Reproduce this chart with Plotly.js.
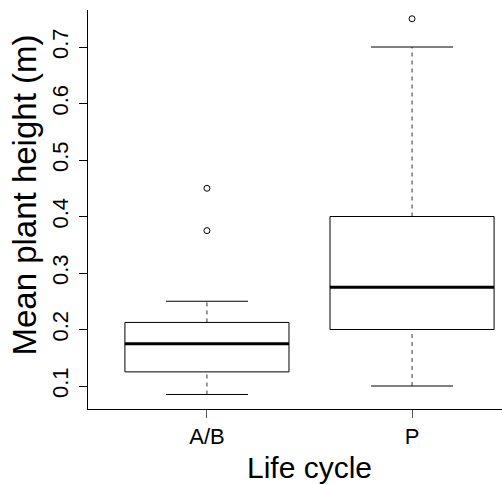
<!DOCTYPE html>
<html>
<head>
<meta charset="utf-8">
<script src="https://cdn.plot.ly/plotly-3.0.1.min.js"></script>
<style>html,body{margin:0;padding:0;background:#fff;overflow:hidden;}</style>
</head>
<body>
<div id="chart" style="width:531px;height:484px;"></div>
<script>
// Data
var categories = ["A/B", "P"];
var lowerWhisker = [0.085, 0.10];
var q1 = [0.125, 0.20];
var medians = [0.175, 0.275];
var q3 = [0.2125, 0.40];
var upperWhisker = [0.25, 0.70];
var outliers = [[0.375, 0.45], [0.75]];
var yTicks = [0.1, 0.2, 0.3, 0.4, 0.5, 0.6, 0.7];
var yTickText = ['0.1', '0.2', '0.3', '0.4', '0.5', '0.6', '0.7'];

var boxHalf = 0.4, capHalf = 0.2;
var pos = categories.map(function (c, i) { return i + 1; });

var wx = [], wy = [], cx = [], cy = [], bx = [], by = [], mx = [], my = [], ox = [], oy = [];
pos.forEach(function (p, i) {
  wx.push(p, p, null, p, p, null);
  wy.push(q3[i], upperWhisker[i], null, lowerWhisker[i], q1[i], null);
  cx.push(p - capHalf, p + capHalf, null, p - capHalf, p + capHalf, null);
  cy.push(upperWhisker[i], upperWhisker[i], null, lowerWhisker[i], lowerWhisker[i], null);
  bx.push(p - boxHalf, p + boxHalf, p + boxHalf, p - boxHalf, p - boxHalf, null);
  by.push(q1[i], q1[i], q3[i], q3[i], q1[i], null);
  mx.push(p - boxHalf, p + boxHalf, null);
  my.push(medians[i], medians[i], null);
  outliers[i].forEach(function (v) { ox.push(p); oy.push(v); });
});

var traces = [
  {x: wx, y: wy, mode: 'lines', line: {color: '#333', width: 1, dash: '4px,4px'}, hoverinfo: 'skip'},
  {x: cx, y: cy, mode: 'lines', line: {color: '#000', width: 1}, hoverinfo: 'skip'},
  {x: bx, y: by, mode: 'lines', line: {color: '#000', width: 1}, hoverinfo: 'skip'},
  {x: mx, y: my, mode: 'lines', line: {color: '#000', width: 3}, hoverinfo: 'skip'},
  {x: ox, y: oy, mode: 'markers', marker: {symbol: 'circle-open', size: 6, color: '#000', line: {width: 1, color: '#000'}}}
];

var font = 'Liberation Sans, Arial, sans-serif';
var layout = {
  width: 531, height: 484,
  margin: {l: 88, r: 0, t: 10, b: 75, pad: 0},
  showlegend: false,
  paper_bgcolor: '#fff', plot_bgcolor: '#fff',
  font: {family: font, color: '#000'},
  xaxis: {
    range: [0.42, 2.58],
    tickvals: pos, ticktext: categories,
    showgrid: false, zeroline: false,
    showline: true, linecolor: '#000', linewidth: 1,
    ticks: 'outside', ticklen: 8, tickcolor: '#555', tickwidth: 1,
    tickfont: {size: 22, family: font, color: '#000'},
    title: {text: 'Life cycle', font: {size: 30, family: font, color: '#000'}, standoff: 14}
  },
  yaxis: {
    range: [0.0593, 0.7655],
    tickvals: yTicks, ticktext: yTickText,
    tickangle: -90,
    showgrid: false, zeroline: false,
    showline: true, linecolor: '#000', linewidth: 1,
    ticks: 'outside', ticklen: 8, tickcolor: '#000', tickwidth: 1,
    tickfont: {size: 22, family: font, color: '#000'},
    ticklabelstandoff: 2
  },
  annotations: [{
    text: 'Mean plant height (m)',
    xref: 'paper', yref: 'paper', x: 0, y: 0.535,
    xanchor: 'center', yanchor: 'middle', xshift: -63,
    textangle: -90, showarrow: false,
    font: {size: 33, family: font, color: '#000'}
  }]
};

Plotly.newPlot('chart', traces, layout, {displayModeBar: false, staticPlot: true});
</script>
</body>
</html>
